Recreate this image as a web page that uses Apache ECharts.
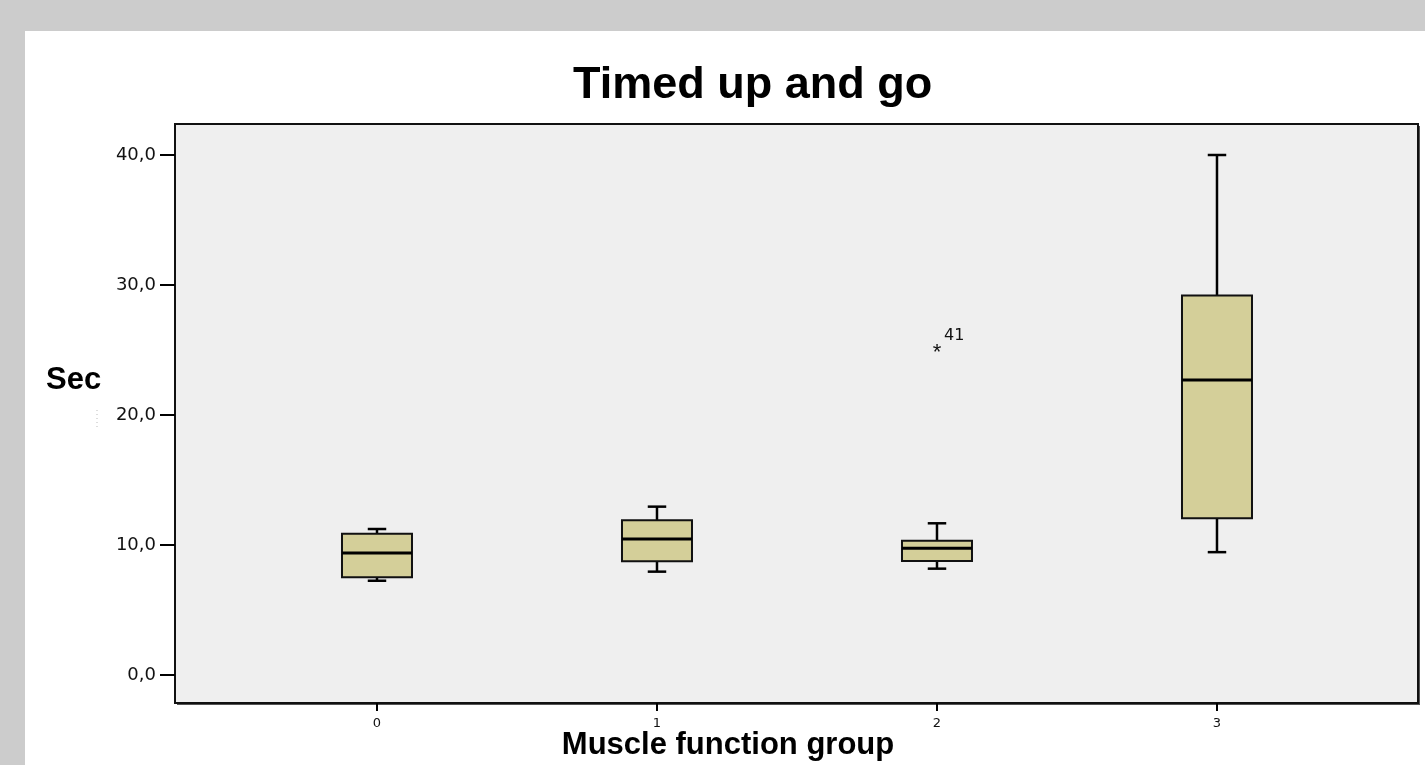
<!DOCTYPE html>
<html>
<head>
<meta charset="utf-8">
<script src="https://cdn.jsdelivr.net/npm/echarts@6/dist/echarts.min.js"></script>
<style>
html,body{margin:0;padding:0;background:#cccccc;}
#chart{width:1425px;height:765px;}
</style>
</head>
<body>
<div id="chart"></div>
<script>
// ---- data ----
var categories = ['0', '1', '2', '3'];
var whiskerMin = [7.25, 7.95, 8.18, 9.45];
var quartile1  = [7.52, 8.75, 8.77, 12.05];
var medians    = [9.38, 10.46, 9.75, 22.7];
var quartile3  = [10.87, 11.9, 10.33, 29.2];
var whiskerMax = [11.23, 12.95, 11.67, 40.0];
var outlierCategory = [2];
var outlierValue = [25.1];
var outlierLabel = ['41'];
var yTickValues = [0, 10, 20, 30, 40];
var yTickLabels = ['0,0', '10,0', '20,0', '30,0', '40,0'];

var xTickValues = categories.map(function (c, i) { return i; });
var boxData = categories.map(function (c, i) {
  return [i, whiskerMin[i], quartile1[i], medians[i], quartile3[i], whiskerMax[i]];
});
var outlierData = outlierCategory.map(function (c, i) {
  return [c, outlierValue[i], outlierLabel[i]];
});

var chart = echarts.init(document.getElementById('chart'), null, {renderer: 'canvas'});

function renderBox(params, api) {
  var idx = api.value(0);
  var bw = api.size([1, 0])[0];
  var half = bw * 0.125;
  var cap = bw * 0.033;
  var pMin = api.coord([idx, api.value(1)]);
  var pQ1 = api.coord([idx, api.value(2)]);
  var pMed = api.coord([idx, api.value(3)]);
  var pQ3 = api.coord([idx, api.value(4)]);
  var pMax = api.coord([idx, api.value(5)]);
  var x = pMed[0];
  var lineStyle = {stroke: '#000', lineWidth: 2.5};
  return {
    type: 'group',
    children: [
      {type: 'line', shape: {x1: x, y1: pQ3[1], x2: x, y2: pMax[1]}, style: lineStyle},
      {type: 'line', shape: {x1: x - cap, y1: pMax[1], x2: x + cap, y2: pMax[1]}, style: lineStyle},
      {type: 'line', shape: {x1: x, y1: pQ1[1], x2: x, y2: pMin[1]}, style: lineStyle},
      {type: 'line', shape: {x1: x - cap, y1: pMin[1], x2: x + cap, y2: pMin[1]}, style: lineStyle},
      {type: 'rect', shape: {x: x - half, y: pQ3[1], width: half * 2, height: pQ1[1] - pQ3[1]},
        style: {fill: '#d4cf99', stroke: '#111', lineWidth: 2}},
      {type: 'line', shape: {x1: x - half, y1: pMed[1], x2: x + half, y2: pMed[1]},
        style: {stroke: '#000', lineWidth: 3}}
    ]
  };
}

function renderOutlier(params, api) {
  var p = api.coord([api.value(0), api.value(1)]);
  var label = outlierData[params.dataIndex][2];
  return {
    type: 'group',
    children: [
      {type: 'text', x: p[0], y: p[1] + 4,
        style: {text: '*', fill: '#111', font: '22px "Liberation Sans", Arial', align: 'center', verticalAlign: 'middle'}},
      {type: 'text', x: p[0] + 7, y: p[1] - 13,
        style: {text: label, fill: '#111', font: '16px "DejaVu Sans"', align: 'left', verticalAlign: 'middle'}}
    ]
  };
}

var option = {
  backgroundColor: '#cccccc',
  animation: false,
  title: [{
    text: 'Timed up and go',
    left: 568,
    top: 58,
    textStyle: {fontFamily: '"Liberation Sans", Arial', fontWeight: 'bold', fontSize: 45, color: '#000'}
  }, {
    text: 'Sec',
    left: 41,
    top: 360,
    textStyle: {fontFamily: '"Liberation Sans", Arial', fontWeight: 'bold', fontSize: 31, color: '#000'}
  }],
  graphic: [
    {type: 'rect', z: -20, shape: {x: 25, y: 31, width: 1410, height: 740}, style: {fill: '#ffffff'}},
    {type: 'rect', z: -19, shape: {x: 177, y: 126, width: 1243, height: 579}, style: {fill: '#555555'}},
    {type: 'rect', z: -18, shape: {x: 175, y: 124, width: 1243, height: 579},
      style: {fill: '#efefef', stroke: '#111', lineWidth: 2}},
    {type: 'line', z: -17, shape: {x1: 97, y1: 410, x2: 97, y2: 428},
      style: {stroke: '#bbbbbb', lineWidth: 1, lineDash: [1, 3]}}
  ],
  grid: {left: 175, top: 155, width: 1243, height: 520, containLabel: false, outerBoundsMode: 'none'},
  xAxis: {
    type: 'value',
    min: -0.7214,
    max: 3.7179,
    offset: 28,
    axisLine: {show: false, onZero: false},
    axisTick: {show: true, customValues: xTickValues, length: 8, lineStyle: {color: '#000', width: 2}},
    axisLabel: {
      show: true, customValues: xTickValues, margin: 14, fontFamily: '"DejaVu Sans"', fontSize: 13, color: '#111',
      formatter: function (v) { var k = Math.round(v); return categories[k] !== undefined ? categories[k] : ''; }
    },
    splitLine: {show: false},
    name: 'Muscle function group',
    nameLocation: 'middle',
    nameGap: 27,
    nameMoveOverlap: false,
    nameTextStyle: {fontFamily: '"Liberation Sans", Arial', fontWeight: 'bold', fontSize: 31, color: '#000',
      padding: [0, 137, 0, 0]}
  },
  yAxis: {
    type: 'value',
    min: 0,
    max: 40,
    interval: 10,
    axisLine: {show: false, onZero: false},
    axisTick: {show: true, customValues: yTickValues, length: 15, lineStyle: {color: '#000', width: 2}},
    axisLabel: {
      show: true, customValues: yTickValues, margin: 19, fontFamily: '"DejaVu Sans"', fontSize: 18, color: '#111',
      formatter: function (v) { var k = yTickValues.indexOf(Math.round(v)); return k >= 0 ? yTickLabels[k] : ''; }
    },
    splitLine: {show: false}
  },
  series: [
    {type: 'custom', name: 'box', renderItem: renderBox, data: boxData, encode: {x: 0, y: [1, 2, 3, 4, 5]}, z: 5},
    {type: 'custom', name: 'outlier', renderItem: renderOutlier, data: outlierData, encode: {x: 0, y: 1}, z: 6}
  ]
};
chart.setOption(option);
</script>
</body>
</html>
